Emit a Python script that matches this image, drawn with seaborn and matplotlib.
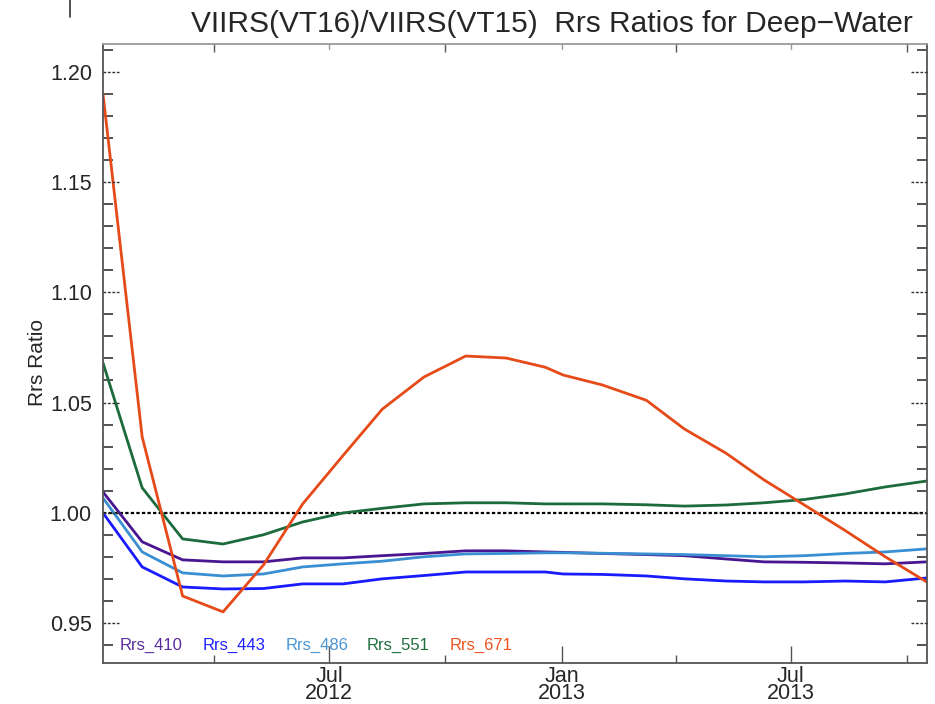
import numpy as np
import pandas as pd
import matplotlib
matplotlib.use("Agg")
import matplotlib.pyplot as plt
import matplotlib.dates as mdates
import matplotlib.transforms as mtransforms
from matplotlib.lines import Line2D
import seaborn as sns

dates = ["2012-01-04", "2012-02-04", "2012-03-07", "2012-04-08", "2012-05-10", "2012-06-10",
         "2012-07-12", "2012-08-12", "2012-09-14", "2012-10-17", "2012-11-18", "2012-12-19",
         "2013-01-02", "2013-02-02", "2013-03-09", "2013-04-08", "2013-05-11", "2013-06-10",
         "2013-07-12", "2013-08-13", "2013-09-14", "2013-10-17"]

rrs_410 = [1.0094, 0.9868, 0.9786, 0.9777, 0.9777, 0.9795, 0.9795, 0.9805, 0.9815, 0.9827, 0.9827,
           0.9822, 0.9820, 0.9815, 0.9810, 0.9805, 0.9790, 0.9777, 0.9775, 0.9772, 0.9768, 0.9777]
rrs_443 = [0.9999, 0.9754, 0.9663, 0.9654, 0.9656, 0.9677, 0.9677, 0.9700, 0.9715, 0.9731, 0.9731,
           0.9731, 0.9722, 0.9720, 0.9713, 0.9700, 0.9690, 0.9686, 0.9686, 0.9690, 0.9686, 0.9704]
rrs_486 = [1.0067, 0.9822, 0.9727, 0.9713, 0.9722, 0.9754, 0.9768, 0.9780, 0.9800, 0.9813, 0.9815,
           0.9818, 0.9818, 0.9816, 0.9813, 0.9810, 0.9805, 0.9800, 0.9805, 0.9815, 0.9822, 0.9836]
rrs_551 = [1.0680, 1.0113, 0.9881, 0.9858, 0.9900, 0.9958, 0.9999, 1.0020, 1.0040, 1.0045, 1.0045,
           1.0040, 1.0040, 1.0040, 1.0036, 1.0030, 1.0035, 1.0045, 1.0060, 1.0085, 1.0117, 1.0144]
rrs_671 = [1.1900, 1.0344, 0.9622, 0.9550, 0.9763, 1.0040, 1.0260, 1.0470, 1.0616, 1.0711, 1.0702,
           1.0660, 1.0625, 1.0580, 1.0510, 1.0380, 1.0270, 1.0149, 1.0035, 0.9920, 0.9800, 0.9685]

series_names = ["Rrs_410", "Rrs_443", "Rrs_486", "Rrs_551", "Rrs_671"]
series_values = [rrs_410, rrs_443, rrs_486, rrs_551, rrs_671]
line_colors = ["#4a1590", "#1a1aff", "#3a8fd2", "#1c6b3c", "#e64a19"]
label_colors = ["#5a2c9c", "#2020ff", "#4a95d4", "#1f6e3e", "#ee5420"]

y_ticks = [0.95, 1.00, 1.05, 1.10, 1.15, 1.20]

frames = []
for name, vals in zip(series_names, series_values):
    frames.append(pd.DataFrame({"date": pd.to_datetime(dates), "ratio": vals, "band": name}))
df = pd.concat(frames, ignore_index=True)

sns.set_style("ticks")
plt.rcParams["font.family"] = ["Liberation Sans", "DejaVu Sans"]

fig = plt.figure(figsize=(9.35, 7.04), dpi=100)
ax = fig.add_axes([103 / 935, 1 - 663 / 704, (927 - 103) / 935, (663 - 44) / 704])

sns.lineplot(data=df, x="date", y="ratio", hue="band", palette=dict(zip(series_names, line_colors)),
             linewidth=2.0, legend=False, ax=ax, sort=False)

ax.axhline(1.0, color="black", linestyle=(0, (1.5, 1.0)), linewidth=1.6, zorder=1)

ax.set_xlim(pd.Timestamp("2012-01-04"), pd.Timestamp("2013-10-17"))
ax.set_ylim(0.9318, 1.2127)

# x ticks
ax.xaxis.set_major_locator(mdates.MonthLocator(bymonth=[1, 7]))
ax.xaxis.set_minor_locator(mdates.MonthLocator(bymonth=[4, 10]))
ax.xaxis.set_major_formatter(mdates.DateFormatter("%b\n%Y"))
ax.tick_params(axis="x", which="major", direction="in", length=12, width=1.0, color="#555555",
               labelsize=15.5, pad=2, top=False)
ax.tick_params(axis="x", which="minor", direction="in", length=6, width=1.0, color="#555555", top=True)
for lab in ax.get_xticklabels():
    lab.set_linespacing(0.78)
trans_top = mtransforms.blended_transform_factory(ax.transData, ax.transAxes)
for d in pd.to_datetime(["2012-07-01", "2013-01-01", "2013-07-01"]):
    ax.plot([d, d], [1, 1 - 5 / 619], transform=trans_top, color="#999999", linewidth=1.0,
            clip_on=False)

# y ticks: minor solid ticks every 0.01, major as dashed short marks
ax.set_yticks(y_ticks)
ax.set_yticklabels([f"{v:.2f}" for v in y_ticks])
ax.yaxis.set_minor_locator(matplotlib.ticker.MultipleLocator(0.01))
ax.tick_params(axis="y", which="major", direction="in", length=0, labelsize=15.5, pad=8, right=True)
ax.tick_params(axis="y", which="minor", direction="in", length=7, width=1.3, color="#444444", right=True)
trans_l = mtransforms.blended_transform_factory(ax.transAxes, ax.transData)
tick_frac = 16 / 824
for v in y_ticks:
    ax.plot([0, tick_frac], [v, v], transform=trans_l, color="#333333", linewidth=1.0,
            linestyle=(0, (2, 1.2)), clip_on=False, zorder=5)
    ax.plot([1 - tick_frac, 1], [v, v], transform=trans_l, color="#333333", linewidth=1.0,
            linestyle=(0, (2, 1.2)), clip_on=False, zorder=5)

for side in ["left", "right", "bottom", "top"]:
    ax.spines[side].set_visible(True)
    ax.spines[side].set_linewidth(1.3)
    ax.spines[side].set_color("#555555")
ax.spines["top"].set_color("#999999")

ax.set_xlabel("")
ax.set_ylabel("Rrs Ratio", fontsize=15)
ax.yaxis.set_label_coords(-0.068, 0.485)

# band labels (legend as colored text)
label_x = [120, 203, 286, 367, 450]
for name, col, px in zip(series_names, label_colors, label_x):
    ax.text((px - 103) / 824, 0.940, name, transform=trans_l, color=col, fontsize=12,
            ha="left", va="center")

fig.text(552 / 935, 1 - 24 / 704, "VIIRS(VT16)/VIIRS(VT15)  Rrs Ratios for Deep\u2212Water",
         ha="center", va="center", fontsize=21.5)

fig.add_artist(Line2D([70 / 935, 70 / 935], [1 - 0 / 704, 1 - 17 / 704], color="#333333",
                      linewidth=1.2, transform=fig.transFigure))

fig.savefig("out.png", dpi=100)
